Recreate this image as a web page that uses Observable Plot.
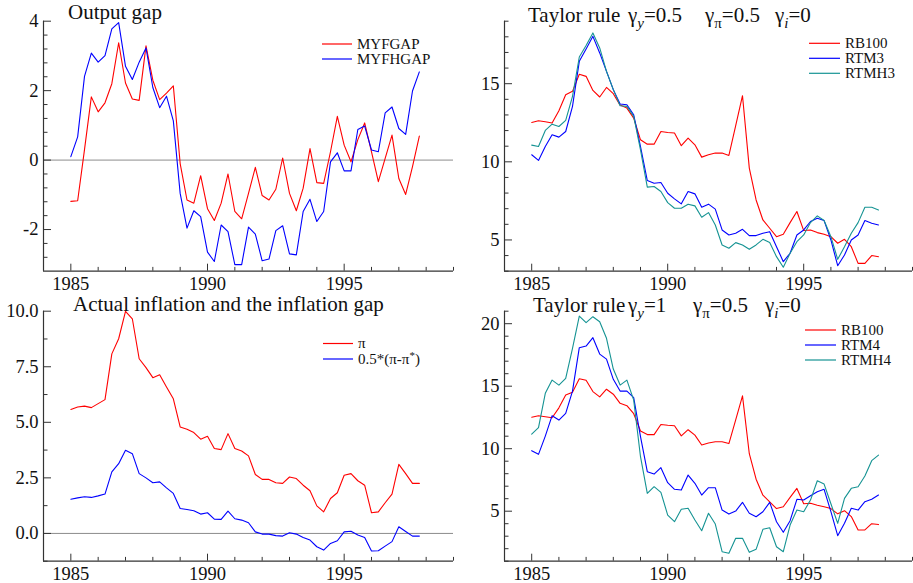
<!DOCTYPE html>
<html>
<head>
<meta charset="utf-8">
<script src="https://cdn.jsdelivr.net/npm/d3@7"></script>
<script src="https://cdn.jsdelivr.net/npm/@observablehq/plot@0.6"></script>
<style>
  body { margin: 0; background: #fff; }
  #wrap { position: relative; width: 913px; height: 583px; background: #fff; overflow: hidden; }
  .panel { position: absolute; }
  #wrap svg text, #wrap svg tspan { font-family: "Liberation Serif", serif !important; }
</style>
</head>
<body>
<div id="wrap"></div>
<script>
// ---- Data (quarterly, 1985Q1 - 1997Q4) ----
const startYear = 1985;
const nQuarters = 52;
const dates = d3.range(nQuarters).map(i => startYear + i / 4);

const myfgap = [-1.19,-1.17,0.3,1.82,1.39,1.65,2.2,3.38,2.22,1.76,1.72,3.29,2.3,1.74,1.93,2.14,
  -0.1,-1.15,-1.24,-0.45,-1.4,-1.74,-1.24,-0.4,-1.48,-1.69,-0.96,-0.21,-1.02,-1.15,-0.84,0.06,
  -0.96,-1.46,-0.81,0.33,-0.65,-0.67,0.24,1.26,0.43,-0.05,0.59,1.07,0.24,-0.62,0.05,0.72,-0.53,-0.99,-0.19,0.69];
const myfhgap = [0.1,0.67,2.41,3.08,2.82,3.01,3.78,3.96,2.7,2.32,2.82,3.23,2.09,1.51,1.84,1.13,
  -0.96,-1.96,-1.46,-1.63,-2.65,-2.92,-1.87,-2.06,-3.01,-3.01,-1.93,-2.13,-2.9,-2.85,-2.03,-1.89,
  -2.7,-2.73,-1.48,-1.13,-1.77,-1.48,-0.05,0.21,-0.31,-0.31,0.88,0.98,0.29,0.24,1.36,1.53,0.91,0.74,1.99,2.54];

const rb100 = [12.52,12.63,12.56,12.48,13.27,14.29,14.51,15.6,15.47,14.57,14.15,14.76,14.36,13.63,13.44,12.8,
  11.41,11.13,11.13,11.94,11.88,11.84,11.03,11.52,11.09,10.3,10.45,10.56,10.56,10.41,12.31,14.23,
  9.6,7.56,6.28,5.75,5.21,5.36,6.11,6.82,5.6,5.64,5.47,5.36,5.21,4.79,5.04,4.57,3.5,3.5,4.0,3.93];
const rtm3 = [10.45,10.09,10.98,11.73,11.58,11.94,13.55,16.43,17.22,18.03,16.97,15.79,14.62,13.7,13.65,13.01,
  10.98,8.8,8.63,8.68,7.99,7.63,7.31,8.1,7.95,7.09,7.29,6.97,5.64,5.32,5.43,5.68,
  5.28,5.28,5.43,5.53,4.57,3.61,4.15,5.32,5.64,6.18,6.39,6.24,5.0,3.35,4.04,5.0,5.32,6.24,6.07,5.96];
const rtmh3 = [11.07,10.98,12.01,12.41,12.26,12.65,14.19,16.71,17.44,18.25,17.29,15.79,14.62,13.59,13.55,12.91,
  10.77,8.38,8.42,8.1,7.39,7.03,7.03,7.29,7.18,6.45,6.75,5.96,4.68,4.47,4.83,4.68,
  4.4,4.68,5.04,4.83,3.93,3.25,4.15,4.89,5.32,6.11,6.54,6.24,5.21,3.76,4.57,5.43,6.11,7.09,7.09,6.92];

const infl = [5.58,5.69,5.73,5.66,5.84,6.02,8.08,8.76,9.99,9.66,7.86,7.46,7.01,7.14,6.59,6.06,
  4.79,4.69,4.54,4.24,4.37,3.82,3.77,4.49,3.82,3.71,3.49,2.65,2.43,2.43,2.28,2.25,
  2.54,2.47,2.17,1.92,1.24,0.97,1.57,1.83,2.62,2.69,2.37,2.17,0.93,0.97,1.38,1.77,3.11,2.69,2.25,2.25];
const inflGap = [1.54,1.6,1.65,1.62,1.69,1.77,2.77,3.14,3.74,3.59,2.69,2.5,2.28,2.32,2.05,1.8,
  1.12,1.08,1.02,0.87,0.93,0.64,0.63,1.0,0.66,0.6,0.48,0.07,-0.03,-0.03,-0.1,-0.12,
  0.03,-0.03,-0.18,-0.3,-0.6,-0.75,-0.45,-0.33,0.07,0.1,-0.07,-0.18,-0.79,-0.78,-0.57,-0.37,0.3,0.09,-0.12,-0.12];

const rtm4 = [9.84,9.55,11.01,12.64,12.29,12.83,14.61,18.08,18.21,18.88,17.57,17.17,15.55,14.61,14.61,14.08,
  10.96,8.16,7.97,8.48,7.28,6.75,6.69,7.89,7.23,6.29,6.88,6.88,5.09,4.77,5.01,5.71,
  4.83,4.56,4.96,5.71,4.16,3.31,4.24,5.95,5.89,6.24,6.56,6.75,4.96,3.04,4.03,5.23,5.09,5.76,5.95,6.29];
const rtmh4 = [11.17,11.68,14.43,15.49,15.09,15.63,18.03,20.61,20.08,20.56,20.16,18.83,16.37,15.09,15.49,13.89,
  9.36,6.43,6.96,6.51,4.69,4.16,5.15,5.23,4.29,3.44,4.83,3.97,1.76,1.63,2.83,2.83,
  1.71,1.95,3.55,3.68,2.16,1.76,3.89,5.09,4.96,5.89,7.44,7.17,5.6,4.03,6.03,6.83,6.96,7.81,9.04,9.49];

// ---- Axis ticks ----
const xDomain = [1984, 1999];
const xMajor = [1985, 1990, 1995];
const xMinor = [1984,1986,1987,1988,1989,1991,1992,1993,1994,1996,1997,1998,1999];

const colors = { red: "#ff0000", blue: "#0000ff", teal: "#159393" };
const FONT = "'Liberation Serif', serif";

const panels = [
  {
    left: 0, top: 0, width: 456, height: 292,
    mt: 20.7, mb: 21.3, ml: 43, mr: 3,
    yDomain: [-3.2, 4], yMajor: [-2, 0, 2, 4],
    yMinor: [-2.8,-2.4,-1.6,-1.2,-0.8,-0.4,0.4,0.8,1.2,1.6,2.4,2.8,3.2,3.6],
    yFormat: d => String(d), zero: true,
    series: [
      { name: "MYFGAP", values: myfgap, color: colors.red },
      { name: "MYFHGAP", values: myfhgap, color: colors.blue }
    ],
    title: { x: 68, y: 19, parts: [{ t: "Output gap" }] },
    legend: { x1: 322, x2: 352, tx: 357, y0: 44, dy: 15 }
  },
  {
    left: 460, top: 0, width: 453, height: 292,
    mt: 20.7, mb: 21.3, ml: 44, mr: 1,
    yDomain: [3, 19], yMajor: [5, 10, 15],
    yMinor: [3,4,6,7,8,9,11,12,13,14,16,17,18,19],
    yFormat: d => String(d), zero: false,
    series: [
      { name: "RB100", values: rb100, color: colors.red },
      { name: "RTM3", values: rtm3, color: colors.blue },
      { name: "RTMH3", values: rtmh3, color: colors.teal }
    ],
    title: { x: 68, y: 21.5, parts: [
      { t: "Taylor rule" },
      { t: "γ", x: 168 }, { t: "y", sub: true, it: true }, { t: "=0.5" },
      { t: "γ", x: 245 }, { t: "π", sub: true }, { t: "=0.5" },
      { t: "γ", x: 315 }, { t: "i", sub: true, it: true }, { t: "=0" }
    ] },
    legend: { x1: 349, x2: 380, tx: 385, y0: 43.3, dy: 15 }
  },
  {
    left: 0, top: 292, width: 456, height: 291,
    mt: 18.7, mb: 22.3, ml: 43, mr: 3,
    yDomain: [-1.25, 10], yMajor: [0, 2.5, 5, 7.5, 10],
    yMinor: [-1.25, 1.25, 3.75, 6.25, 8.75],
    yFormat: d3.format(".1f"), zero: true,
    series: [
      { name: "π", values: infl, color: colors.red },
      { name: "0.5*(π-π*)", values: inflGap, color: colors.blue, parts: ["0.5*(π-π", "*", ")"] }
    ],
    title: { x: 73, y: 18.7, parts: [{ t: "Actual inflation and the inflation gap" }] },
    legend: { x1: 323, x2: 353, tx: 358, y0: 51.5, dy: 15.5 }
  },
  {
    left: 460, top: 292, width: 453, height: 291,
    mt: 18.7, mb: 22.3, ml: 44, mr: 1,
    yDomain: [1, 21], yMajor: [5, 10, 15, 20],
    yMinor: [1,2,3,4,6,7,8,9,11,12,13,14,16,17,18,19,21],
    yFormat: d => String(d), zero: false,
    series: [
      { name: "RB100", values: rb100, color: colors.red },
      { name: "RTM4", values: rtm4, color: colors.blue },
      { name: "RTMH4", values: rtmh4, color: colors.teal }
    ],
    title: { x: 73, y: 19.7, parts: [
      { t: "Taylor rule" },
      { t: "γ", x: 168 }, { t: "y", sub: true, it: true }, { t: "=1" },
      { t: "γ", x: 233 }, { t: "π", sub: true }, { t: "=0.5" },
      { t: "γ", x: 305 }, { t: "i", sub: true, it: true }, { t: "=0" }
    ] },
    legend: { x1: 345, x2: 376, tx: 381, y0: 38, dy: 15 }
  }
];

const axisColor = "#333";
const wrap = document.getElementById("wrap");

for (const p of panels) {
  const plotW = p.width - p.ml - p.mr;
  const plotH = p.height - p.mt - p.mb;
  const rows = p.series.flatMap(s => s.values.map((v, i) => ({ date: dates[i], value: v, series: s.name })));
  const marks = [];
  if (p.zero) marks.push(Plot.ruleY([0], { stroke: "#8c8c8c", strokeWidth: 1 }));
  for (const s of p.series) {
    marks.push(Plot.line(rows.filter(r => r.series === s.name), {
      x: "date", y: "value", stroke: s.color, strokeWidth: 1.1
    }));
  }
  // axis lines
  marks.push(Plot.ruleX([xDomain[0]], { stroke: axisColor, strokeWidth: 1.2 }));
  marks.push(Plot.ruleY([p.yDomain[0]], { stroke: axisColor, strokeWidth: 1.2 }));
  // inward ticks
  marks.push(Plot.tickY(p.yMajor, { y: d => d, stroke: axisColor, insetRight: plotW - 8 }));
  marks.push(Plot.tickY(p.yMinor, { y: d => d, stroke: axisColor, insetRight: plotW - 4.5 }));
  marks.push(Plot.tickX(xMajor, { x: d => d, stroke: axisColor, insetTop: plotH - 7 }));
  marks.push(Plot.tickX(xMinor, { x: d => d, stroke: axisColor, insetTop: plotH - 3.8 }));

  const chart = Plot.plot({
    width: p.width, height: p.height,
    marginTop: p.mt, marginBottom: p.mb, marginLeft: p.ml, marginRight: p.mr,
    style: { fontFamily: FONT, fontSize: "18.5px", color: "#111", background: "transparent", overflow: "visible" },
    x: { domain: xDomain, ticks: xMajor, tickFormat: d3.format("d"), tickSize: 0, tickPadding: 6, label: null },
    y: { domain: p.yDomain, ticks: p.yMajor, tickFormat: p.yFormat, tickSize: 0, tickPadding: 5, label: null },
    marks
  });
  const div = document.createElement("div");
  div.className = "panel";
  div.style.left = p.left + "px";
  div.style.top = p.top + "px";
  div.appendChild(chart);
  wrap.appendChild(div);

  const svgEl = chart.tagName.toLowerCase() === "svg" ? chart : chart.querySelector("svg");
  const svg = d3.select(svgEl);
  // enforce tick-label font
  svg.selectAll("text").style("font-family", FONT).style("font-size", "18.5px").style("fill", "#111");

  // title
  const t = svg.append("text")
    .attr("x", p.title.x).attr("y", p.title.y)
    .style("font-family", FONT).style("font-size", "21px").style("fill", "#111")
    .style("text-anchor", "start");
  let shifted = false;
  for (const part of p.title.parts) {
    const ts = t.append("tspan").text(part.t);
    if (part.x != null) ts.attr("x", part.x);
    if (part.sub) {
      ts.attr("dy", 6).style("font-size", "15px"); shifted = true;
      if (part.it) ts.style("font-style", "italic");
    } else if (shifted) { ts.attr("dy", -6); shifted = false; }
  }

  // legend
  const lg = p.legend;
  p.series.forEach((s, i) => {
    const y = lg.y0 + i * lg.dy;
    svg.append("line").attr("x1", lg.x1).attr("x2", lg.x2).attr("y1", y).attr("y2", y)
      .attr("stroke", s.color).attr("stroke-width", 1.2);
    const tx = svg.append("text").attr("x", lg.tx).attr("y", y).attr("dy", "0.33em")
      .style("font-family", FONT).style("font-size", "15px").style("fill", "#111")
      .style("text-anchor", "start");
    if (s.parts) {
      tx.append("tspan").text(s.parts[0]);
      tx.append("tspan").attr("dy", -5).style("font-size", "11px").text(s.parts[1]);
      tx.append("tspan").attr("dy", 5).text(s.parts[2]);
    } else {
      tx.text(s.name);
    }
  });
}
</script>
</body>
</html>
